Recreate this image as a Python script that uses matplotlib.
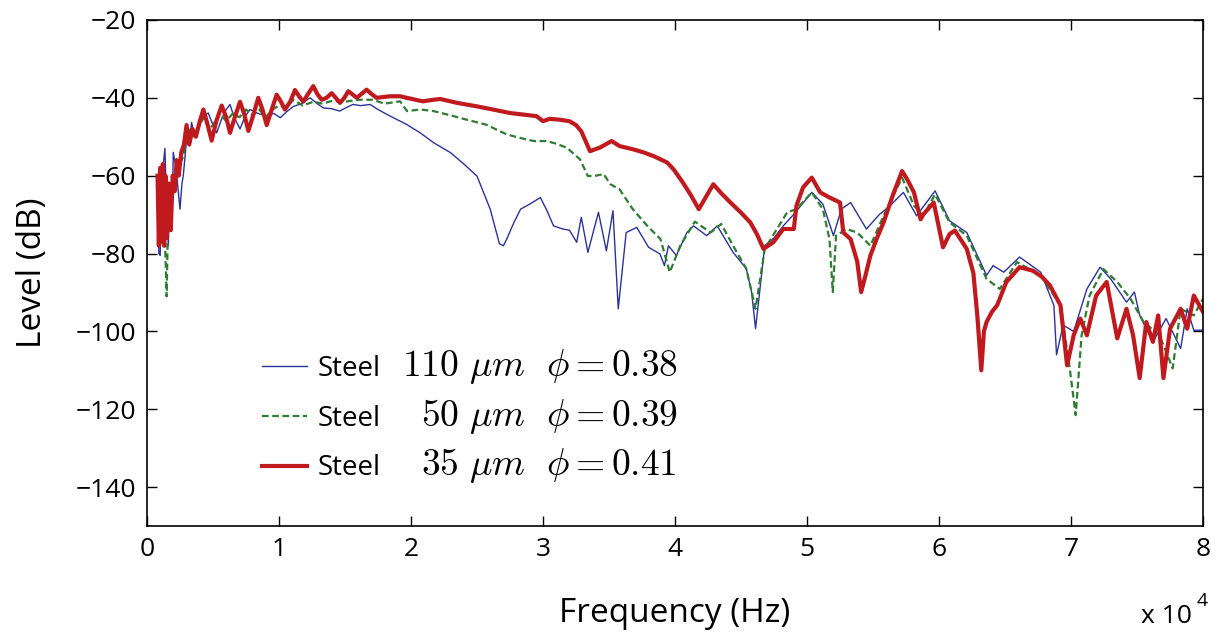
import numpy as np
import matplotlib
matplotlib.use('Agg')
import matplotlib.pyplot as plt

# frequency in units of 1e4 Hz, level in dB
steel_110 = [
    (0.08, -62), (0.09, -80), (0.10, -80.5), (0.115, -60), (0.136, -53), (0.15, -70),
    (0.162, -78), (0.175, -62), (0.19, -72), (0.199, -54), (0.22, -58), (0.25, -68.6),
    (0.265, -62), (0.275, -60), (0.30, -50.7), (0.32, -52), (0.338, -46.3), (0.36, -50),
    (0.376, -49), (0.40, -47), (0.427, -44.7), (0.464, -43.9), (0.50, -47), (0.528, -49),
    (0.57, -45), (0.60, -43), (0.629, -41.7), (0.66, -45), (0.705, -48), (0.74, -45),
    (0.78, -43), (0.84, -44), (0.907, -44.7), (0.96, -44), (1.01, -45.1), (1.06, -43.5),
    (1.11, -42.2), (1.17, -41.5), (1.235, -40), (1.29, -41.5), (1.336, -42.6), (1.40, -42.8),
    (1.46, -43.4), (1.51, -42.5), (1.56, -41.7), (1.62, -42), (1.69, -41.7), (1.75, -43),
    (1.82, -44.3), (1.917, -46), (1.97, -46.9), (2.07, -49), (2.17, -51.5), (2.30, -54.1),
    (2.40, -57), (2.50, -60.1), (2.60, -68.6), (2.67, -77.5), (2.70, -78), (2.725, -76.3),
    (2.78, -72), (2.83, -68.6), (2.90, -67.3), (2.98, -65.6), (3.03, -69), (3.08, -72.9),
    (3.15, -73.7), (3.20, -74), (3.255, -77.1), (3.29, -70.7), (3.34, -79.7), (3.42, -69.4),
    (3.48, -79.3), (3.53, -69), (3.57, -94.2), (3.63, -74.6), (3.71, -73.3), (3.80, -78.4),
    (3.886, -80.1), (3.92, -83.1), (3.95, -78), (4.01, -80.5), (4.09, -74.6), (4.14, -72.9),
    (4.24, -75.4), (4.32, -72.9), (4.44, -79.7), (4.54, -83.9), (4.58, -89.9), (4.61, -99.3),
    (4.68, -78), (4.75, -76), (4.82, -72.9), (4.90, -69.9), (5.036, -64.3), (5.12, -67.3),
    (5.20, -75.4), (5.26, -68.6), (5.33, -66.9), (5.45, -73.7), (5.55, -69.9), (5.62, -68),
    (5.73, -64.3), (5.83, -70.3), (5.97, -63.9), (6.08, -71.6), (6.21, -74.6), (6.36, -85.6),
    (6.41, -83.1), (6.49, -84.8), (6.61, -80.9), (6.77, -84.8), (6.87, -93.3), (6.89, -106),
    (6.94, -98.4), (7.02, -100), (7.12, -89.1), (7.22, -83.5), (7.30, -86.5), (7.42, -92.5),
    (7.48, -89.9), (7.52, -95.9), (7.62, -102.7), (7.72, -96.7), (7.83, -104.4), (7.88, -94.2),
    (7.93, -99.7), (8.0, -99.7),
]

steel_50 = [
    (0.08, -60), (0.09, -72), (0.10, -62), (0.12, -68), (0.135, -75), (0.149, -91),
    (0.16, -70), (0.175, -64), (0.187, -67), (0.20, -60), (0.22, -58), (0.25, -57),
    (0.275, -55), (0.30, -50), (0.33, -48), (0.36, -50), (0.40, -47), (0.43, -45),
    (0.47, -48), (0.50, -47), (0.55, -44), (0.60, -46), (0.65, -44), (0.70, -45),
    (0.75, -43), (0.80, -44.5), (0.85, -43), (0.90, -45), (0.95, -43), (1.0, -42),
    (1.05, -42.5), (1.11, -40.5), (1.18, -42), (1.26, -41), (1.33, -41.5), (1.40, -40.8),
    (1.50, -41), (1.60, -40.5), (1.71, -40.5), (1.80, -41.5), (1.917, -40.9), (1.97, -43.4),
    (2.07, -43), (2.17, -43.4), (2.30, -44.5), (2.42, -45.6), (2.57, -46.9), (2.725, -49.4),
    (2.85, -50.5), (2.93, -51.1), (3.03, -51.1), (3.10, -51.8), (3.18, -52.8), (3.28, -55.8),
    (3.34, -60.1), (3.40, -60), (3.46, -59.6), (3.51, -62.2), (3.58, -63.5), (3.68, -68.6),
    (3.79, -72.9), (3.89, -76.3), (3.96, -84.8), (4.04, -78), (4.15, -71.8), (4.27, -74.6),
    (4.35, -72.4), (4.44, -78), (4.54, -83.9), (4.61, -94.2), (4.68, -78.8), (4.85, -69.4),
    (4.92, -68.6), (5.036, -64.3), (5.12, -68.6), (5.17, -76.3), (5.195, -89.9), (5.22, -75.4),
    (5.30, -73.7), (5.38, -74.6), (5.48, -78), (5.58, -70.3), (5.72, -60.5), (5.81, -67.7),
    (5.88, -70.3), (5.97, -64.8), (6.08, -72), (6.21, -75.4), (6.36, -86.5), (6.46, -89.1),
    (6.59, -82.2), (6.77, -85.6), (6.92, -93.3), (6.99, -109.5), (7.035, -121.5), (7.08, -101),
    (7.14, -90.8), (7.245, -84), (7.35, -87.3), (7.45, -91.6), (7.55, -97.6), (7.67, -101),
    (7.77, -109.5), (7.83, -94.2), (7.93, -95.9), (8.0, -91.6),
]

steel_35 = [
    (0.08, -60), (0.09, -78), (0.10, -58), (0.11, -77), (0.12, -57), (0.13, -78),
    (0.14, -60), (0.15, -76), (0.165, -62), (0.18, -74), (0.195, -60), (0.21, -64),
    (0.225, -56), (0.24, -60), (0.26, -54), (0.28, -52), (0.30, -47), (0.32, -52),
    (0.345, -48), (0.37, -50), (0.40, -46), (0.427, -43), (0.46, -47), (0.49, -51),
    (0.525, -46), (0.566, -42), (0.60, -45), (0.629, -49), (0.665, -45), (0.705, -41),
    (0.735, -44), (0.768, -48.5), (0.80, -45), (0.843, -40), (0.875, -43), (0.907, -47),
    (0.945, -43), (0.982, -39.2), (1.015, -41), (1.045, -43), (1.085, -41), (1.121, -38),
    (1.15, -39.5), (1.184, -41), (1.22, -39), (1.26, -37), (1.29, -39), (1.323, -40.5),
    (1.36, -40), (1.399, -38.8), (1.43, -40), (1.462, -41.3), (1.495, -40), (1.525, -38.3),
    (1.56, -39.2), (1.589, -40), (1.625, -39), (1.664, -37.9), (1.70, -39), (1.74, -40),
    (1.84, -39.6), (1.917, -39.6), (1.967, -40), (2.09, -40.9), (2.17, -40.5), (2.22, -40.3),
    (2.35, -41.3), (2.50, -42.2), (2.62, -43), (2.75, -43.9), (2.85, -44.3), (2.95, -44.7),
    (3.0, -46), (3.05, -45.4), (3.12, -45.6), (3.20, -46), (3.25, -47), (3.29, -48.6),
    (3.356, -53.7), (3.43, -52.8), (3.52, -51.1), (3.58, -52.4), (3.68, -53.2), (3.76, -54),
    (3.84, -55), (3.94, -56.6), (3.99, -58.4), (4.06, -61.8), (4.12, -65), (4.18, -68.6),
    (4.29, -62.2), (4.35, -64.5), (4.42, -66.9), (4.50, -69.5), (4.57, -72), (4.62, -75),
    (4.67, -78.8), (4.745, -77.1), (4.82, -73.7), (4.90, -73.7), (4.92, -67.7), (4.97, -63),
    (5.036, -60.5), (5.10, -64.3), (5.17, -65.6), (5.25, -66.9), (5.275, -74.6), (5.33, -76.3),
    (5.38, -82), (5.41, -89.9), (5.44, -86), (5.48, -80.5), (5.53, -76), (5.58, -72),
    (5.65, -65), (5.72, -58.8), (5.76, -61), (5.81, -64.3), (5.86, -71.2), (5.88, -70),
    (5.96, -66.9), (6.03, -78.4), (6.08, -75), (6.12, -74.1), (6.21, -78.8), (6.26, -85),
    (6.29, -95.9), (6.32, -110), (6.34, -100), (6.36, -97.6), (6.40, -95), (6.44, -93.3),
    (6.51, -87.3), (6.61, -83.5), (6.71, -84.4), (6.78, -86), (6.84, -88.2), (6.92, -93.3),
    (6.97, -108.7), (7.02, -101), (7.07, -96.7), (7.12, -101), (7.19, -90.8), (7.27, -87.3),
    (7.35, -101.8), (7.42, -94.2), (7.47, -101), (7.52, -112), (7.57, -97.6), (7.62, -102.7),
    (7.66, -95.9), (7.70, -112), (7.75, -99.3), (7.83, -94.2), (7.88, -99.3), (7.93, -90.8),
    (8.0, -95),
]

materials = ['Steel', 'Steel', 'Steel']
sizes = ['110', '50', '35']
phis = ['0.38', '0.39', '0.41']

plt.rcParams['font.family'] = ['Open Sans', 'DejaVu Sans']
plt.rcParams['mathtext.fontset'] = 'cm'

fig = plt.figure(figsize=(12.31, 6.34), dpi=100)
ax = fig.add_axes([0.1194, 0.1703, 0.8579, 0.7982])

f110, l110 = np.array(steel_110).T
f50, l50 = np.array(steel_50).T
f35, l35 = np.array(steel_35).T

ax.plot(f110, l110, color='#2a3399', linewidth=1.0, label=materials[0])
ax.plot(f50, l50, color='#2e7d32', linewidth=1.6, linestyle=(0, (3, 1.6)), label=materials[1])
ax.plot(f35, l35, color='#c0191e', linewidth=3.0, label=materials[2])

ax.set_xlim(0, 8)
ax.set_ylim(-150, -20)
ax.set_xticks(range(0, 9))
ax.set_yticks(range(-140, -19, 20))
ax.set_yticklabels([f'\u2212{abs(v)}' for v in range(-140, -19, 20)])
ax.tick_params(direction='in', length=7, width=1.0, labelsize=19, top=True, right=True, pad=8)
for s in ax.spines.values():
    s.set_linewidth(1.2)

ax.set_xlabel('Frequency (Hz)', fontsize=24, labelpad=25)
ax.set_ylabel('Level (dB)', fontsize=24, labelpad=19)
fig.text(0.927, 0.018, 'x 10', fontsize=19, ha='left', va='baseline')
fig.text(0.972, 0.044, '4', fontsize=14, ha='left', va='baseline')

leg = ax.legend(loc='upper left', bbox_to_anchor=(0.109, 0.338), frameon=False,
                fontsize=20, handlelength=1.6, handletextpad=0.4, labelspacing=0.78,
                borderpad=0, borderaxespad=0)

# math part of each legend entry, put on the baseline of the legend text
fig.canvas.draw()
inv = fig.transFigure.inverted()
for t, size, phi in zip(leg.get_texts(), sizes, phis):
    base = t.get_transform().transform(t.get_position())
    y = inv.transform(base)[1]
    fig.text(0.3725, y, f'${size}$', fontsize=27, ha='right', va='baseline')
    fig.text(0.381, y, rf'$\mu m\ \ \phi = {phi}$', fontsize=27, ha='left', va='baseline')

plt.savefig('out.png', dpi=100)
